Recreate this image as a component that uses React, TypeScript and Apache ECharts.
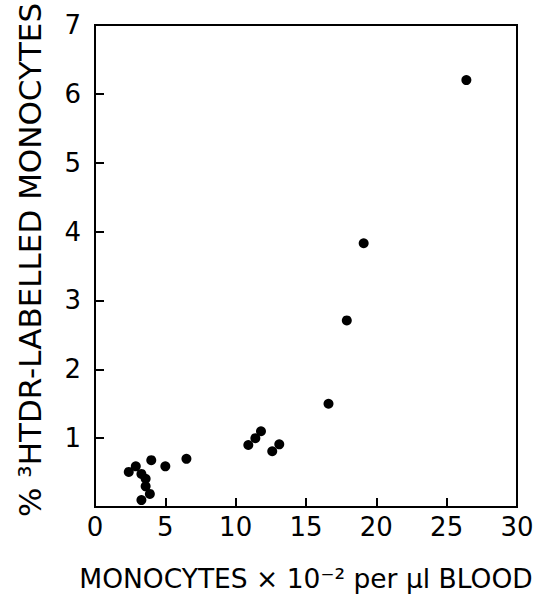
import React, { useEffect, useRef } from "react";
import * as echarts from "echarts";

const monocytes = [26.4, 19.1, 17.9, 16.6, 11.8, 11.4, 10.9, 13.1, 12.6, 4.0, 6.5, 5.0, 2.9, 2.4, 3.3, 3.6, 3.6, 3.9, 3.3];
const labelled = [6.2, 3.83, 2.71, 1.5, 1.1, 1.0, 0.9, 0.91, 0.81, 0.68, 0.7, 0.59, 0.59, 0.51, 0.48, 0.41, 0.3, 0.19, 0.1];

const xTitle = "MONOCYTES \u00d7 10\u207b\u00b2 per \u03bcl BLOOD";
const yTitle = "% \u00b3HTDR-LABELLED MONOCYTES";

const FONT = "DejaVu Sans";

export default function App() {
  const ref = useRef<HTMLDivElement>(null);
  useEffect(() => {
    if (!ref.current) return;
    const chart = echarts.init(ref.current, undefined, { renderer: "svg" });
    const data = monocytes.map((x, i) => [x, labelled[i]]);
    chart.setOption({
      animation: false,
      backgroundColor: "#fff",
      grid: {
        left: 95,
        right: 20,
        top: 25,
        bottom: 89,
        show: true,
        borderColor: "#000",
        borderWidth: 2,
        backgroundColor: "transparent",
      },
      xAxis: {
        type: "value",
        min: 0,
        max: 30,
        interval: 5,
        axisLine: { show: true, lineStyle: { color: "#000", width: 2 } },
        axisTick: { show: true, inside: true, length: 9, lineStyle: { color: "#000", width: 2 } },
        axisLabel: { color: "#000", fontSize: 26, fontFamily: FONT, margin: 7 },
        splitLine: { show: false },
      },
      yAxis: {
        type: "value",
        min: 0,
        max: 7,
        interval: 1,
        axisLine: { show: true, lineStyle: { color: "#000", width: 2 } },
        axisTick: { show: true, inside: true, length: 9, lineStyle: { color: "#000", width: 2 } },
        axisLabel: {
          color: "#000",
          fontSize: 26,
          fontFamily: FONT,
          margin: 14,
          formatter: (v: number) => (v === 0 ? "" : String(v)),
        },
        splitLine: { show: false },
      },
      series: [
        {
          type: "scatter",
          data,
          symbol: "circle",
          symbolSize: 10,
          itemStyle: { color: "#000", opacity: 1 },
        },
      ],
      graphic: [
        {
          type: "text",
          x: 306,
          y: 578,
          style: {
            text: xTitle,
            fontSize: 26.5,
            fontFamily: FONT,
            fill: "#000",
            align: "center",
            verticalAlign: "middle",
          },
        },
        {
          type: "text",
          x: 30,
          y: 260,
          rotation: Math.PI / 2,
          style: {
            text: yTitle,
            fontSize: 31,
            fontFamily: FONT,
            fill: "#000",
            align: "center",
            verticalAlign: "middle",
          },
        },
      ],
    });
    return () => chart.dispose();
  }, []);
  return <div ref={ref} style={{ width: 537, height: 596, position: "absolute", left: 0, top: 0 }} />;
}
